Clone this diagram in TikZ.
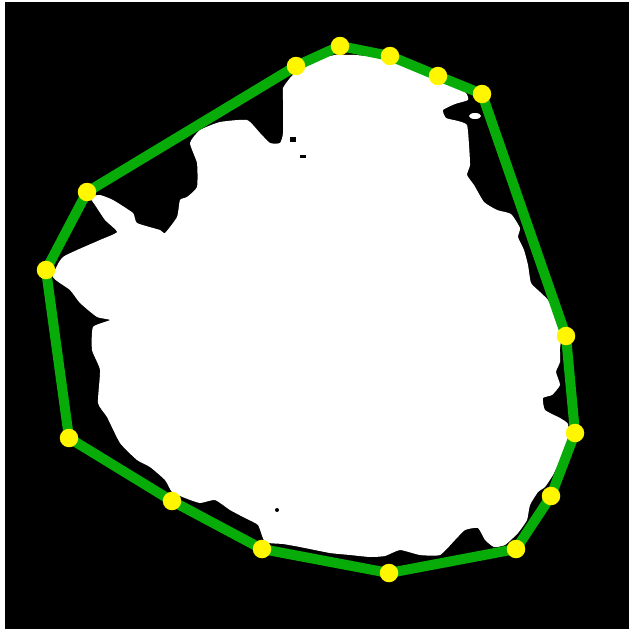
\documentclass[tikz,border=0pt]{standalone}
\definecolor{hullgreen}{RGB}{8,172,8}
\definecolor{dotyellow}{RGB}{255,246,0}
\begin{document}
\begin{tikzpicture}[x=0.02cm,y=-0.02cm,every node/.style={circle,fill=dotyellow,inner sep=0pt,minimum size=0.37cm}]
\useasboundingbox (0,0) rectangle (629,629);
\fill[white] (0,0) rectangle (629,629);
\fill[black] (5,2) rectangle (629,629);
% the white blob
\fill[white] plot[smooth cycle,tension=0.3] coordinates {
(283,88) (290,78) (300,68) (315,60) (335,55) (355,55) (375,57) (395,62) (415,68)
(435,76) (452,84) (466,93) (468,100) (455,104) (443,110) (446,118) (458,121)
(467,125) (469,145) (470,165) (467,175) (474,185) (484,202) (497,210) (511,214)
(520,228) (518,237) (524,250) (528,265) (531,283) (540,292) (548,300) (555,315)
(562,332) (560,348) (560,362) (556,372) (560,385) (552,395) (543,398) (545,410)
(560,418) (568,424) (568,440) (562,456) (553,475) (545,487) (538,492) (530,505)
(527,520) (518,533) (505,545) (494,547) (485,540) (478,528) (465,530) (455,540)
(440,555) (420,555) (400,550) (385,556) (370,557) (350,555) (330,553) (300,547)
(283,544) (265,542) (258,525) (245,518) (230,510) (215,500) (200,503) (185,498)
(172,492) (165,480) (150,467) (137,460) (120,443) (107,417) (98,403) (100,370)
(92,350) (93,327) (110,320) (97,317) (80,303) (70,290) (53,277) (63,257)
(100,240) (117,232) (105,220) (95,205) (90,197) (100,195) (113,200) (133,213)
(137,223) (160,230) (165,233) (177,217) (180,200) (187,197) (197,187) (197,163)
(190,143) (200,130) (220,122) (247,120) (260,133) (270,143) (280,143) (283,133)
(283,100)};
\fill[white] (475,116) ellipse (6 and 3);
\fill[black] (290,137) rectangle (296,142);
\fill[black] (300,155) rectangle (306,158);
\fill[black] (277,510) circle (2);
% hull corners
\coordinate (a) at (340,46);
\coordinate (b) at (390,56);
\coordinate (c) at (438,76);
\coordinate (d) at (482,94);
\coordinate (e) at (566,336);
\coordinate (f) at (575,433);
\coordinate (g) at (551,496);
\coordinate (h) at (516,549);
\coordinate (i) at (389,573);
\coordinate (j) at (262,549);
\coordinate (k) at (172,501);
\coordinate (l) at (69,438);
\coordinate (m) at (46,270);
\coordinate (n) at (87,192);
\coordinate (o) at (296,66);
\draw[hullgreen,line width=0.2cm,line join=round] (a)--(b)--(c)--(d)--(e)--(f)--(g)--(h)--(i)--(j)--(k)--(l)--(m)--(n)--(o)--cycle;
\foreach \v in {a,b,c,d,e,f,g,h,i,j,k,l,m,n,o}
  \node (dot\v) at (\v) {};
\end{tikzpicture}
\end{document}
